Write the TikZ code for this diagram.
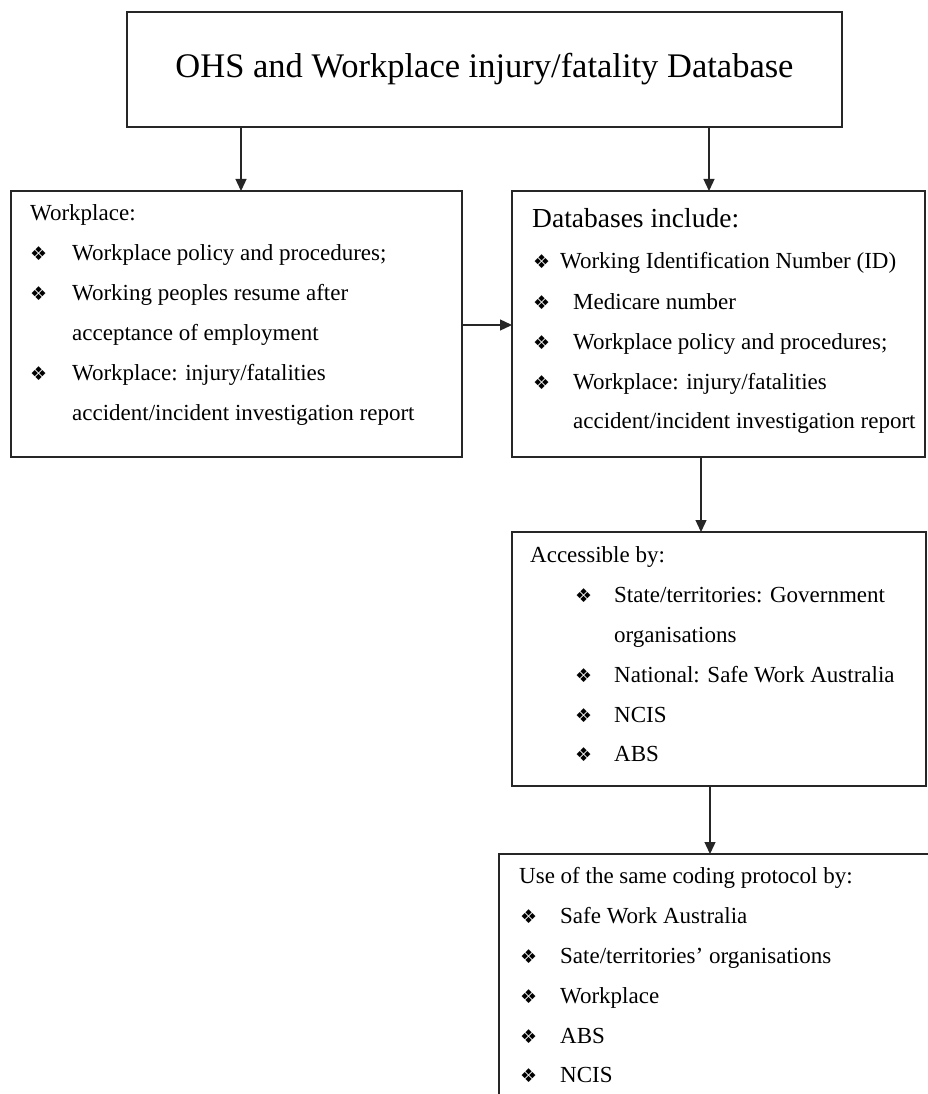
\documentclass[tikz,border=0pt]{standalone}
\usepackage{fontspec}
\setmainfont{Liberation Serif}
\newfontfamily\dejavu{DejaVu Sans}
\usetikzlibrary{arrows.meta}
\newcommand{\bul}{{\dejavu\fontsize{19}{19}\selectfont ❖}}
\tikzset{
  box/.style={draw=black!85, line width=1.3pt, anchor=north west, inner sep=0pt, outer sep=0pt},
  txt/.style={anchor=base west, inner sep=0pt, font=\fontsize{23}{27}\selectfont},
  head/.style={anchor=base west, inner sep=0pt, font=\fontsize{27.5}{32}\selectfont},
  bl/.style={anchor=base west, inner sep=0pt},
  arr/.style={draw=black!85, line width=1.3pt, -{Triangle[length=12pt,width=11pt]}}
}
\begin{document}
\begin{tikzpicture}[x=1pt,y=-1pt]
\useasboundingbox (0,0) rectangle (928,1094);
\clip (0,0) rectangle (928,1094);
% boxes
\node[box, minimum width=715pt, minimum height=115pt, font=\fontsize{34.5}{40}\selectfont] (top) at (127,12) {OHS and Workplace injury/fatality Database};
\node[box, minimum width=451pt, minimum height=266pt] (wbox) at (11,191) {};
\node[box, minimum width=413pt, minimum height=266pt] (dbox) at (512,191) {};
\node[box, minimum width=414pt, minimum height=254pt] (abox) at (512,532) {};
\node[box, minimum width=441pt, minimum height=256pt] (ubox) at (499,854) {};
% arrows
\draw[arr] (top.south -| 241,0) -- (wbox.north -| 241,0);
\draw[arr] (top.south -| 709,0) -- (dbox.north -| 709,0);
\draw[arr] (wbox.east |- 0,325) -- (dbox.west |- 0,325);
\draw[arr] (dbox.south -| 701,0) -- (abox.north -| 701,0);
\draw[arr] (abox.south -| 710,0) -- (ubox.north -| 710,0);
% left box text
\node[txt] (w0) at (30,220) {Workplace:};
\node[bl] (wb1) at (30,260) {\bul};
\node[txt] (w1) at (72,260) {Workplace policy and procedures;};
\node[bl] (wb2) at (30,300) {\bul};
\node[txt] (w2) at (72,300) {Working peoples resume after};
\node[txt] (w3) at (72,340) {acceptance of employment};
\node[bl] (wb4) at (30,380) {\bul};
\node[txt] (w4) at (72,380) {Workplace: injury/fatalities};
\node[txt] (w5) at (72,420) {accident/incident investigation report};
% databases box text
\node[head] (d0) at (532,227) {Databases include:};
\node[bl] (db1) at (533,268) {\bul};
\node[txt] (d1) at (560,268) {Working Identification Number (ID)};
\node[bl] (db2) at (533,309) {\bul};
\node[txt] (d2) at (573,309) {Medicare number};
\node[bl] (db3) at (533,349) {\bul};
\node[txt] (d3) at (573,349) {Workplace policy and procedures;};
\node[bl] (db4) at (533,389) {\bul};
\node[txt] (d4) at (573,389) {Workplace: injury/fatalities};
\node[txt] (d5) at (573,428) {accident/incident investigation report};
% accessible box text
\node[txt] (a0) at (530,562) {Accessible by:};
\node[bl] (ab1) at (575,602) {\bul};
\node[txt] (a1) at (614,602) {State/territories: Government};
\node[txt] (a2) at (614,642) {organisations};
\node[bl] (ab3) at (575,682) {\bul};
\node[txt] (a3) at (614,682) {National: Safe Work Australia};
\node[bl] (ab4) at (575,722) {\bul};
\node[txt] (a4) at (614,722) {NCIS};
\node[bl] (ab5) at (575,761) {\bul};
\node[txt] (a5) at (614,761) {ABS};
% coding protocol box text
\node[txt] (u0) at (519,883) {Use of the same coding protocol by:};
\node[bl] (ub1) at (520,923) {\bul};
\node[txt] (u1) at (560,923) {Safe Work Australia};
\node[bl] (ub2) at (520,963) {\bul};
\node[txt] (u2) at (560,963) {Sate/territories’ organisations};
\node[bl] (ub3) at (520,1003) {\bul};
\node[txt] (u3) at (560,1003) {Workplace};
\node[bl] (ub4) at (520,1043) {\bul};
\node[txt] (u4) at (560,1043) {ABS};
\node[bl] (ub5) at (520,1082) {\bul};
\node[txt] (u5) at (560,1082) {NCIS};
\end{tikzpicture}
\end{document}
